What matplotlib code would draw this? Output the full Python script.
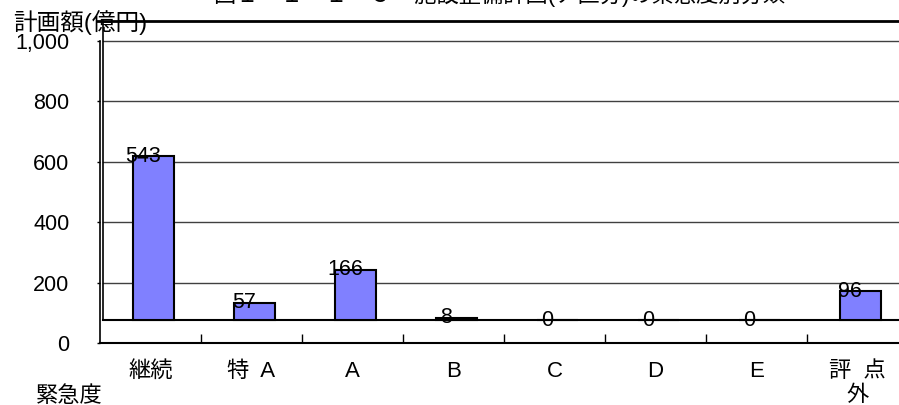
import matplotlib
matplotlib.use("Agg")
import matplotlib.pyplot as plt

plt.rcParams['font.family'] = ['Liberation Sans', 'Noto Sans CJK JP', 'DejaVu Sans']

# data
categories = ["継続", "特  A", "A", "B", "C", "D", "E", "評  点\n外"]
values = [543, 57, 166, 8, 0, 0, 0, 96]
y_ticks = [0, 200, 400, 600, 800, 1000]
y_labels = ["0", "200", "400", "600", "800", "1,000"]

base = 76        # floor of the pseudo-3D back wall
top = 1066       # top edge of the back wall
depth = 0.03     # horizontal depth offset (category units)

fig = plt.figure(figsize=(8.99, 4.05), dpi=100)
ax = fig.add_axes([100 / 899, 1 - 343 / 405, 808 / 899, 322 / 405])
ax.set_xlim(0, len(categories))
ax.set_ylim(0, top)

# back wall: gridlines, floor, left edge, top edge
for t in y_ticks[1:]:
    ax.plot([depth, len(categories)], [t, t], color="#404040", lw=1.0, zorder=1)
ax.plot([depth, len(categories)], [base, base], color="black", lw=1.5, zorder=1)
ax.plot([-0.03, len(categories)], [top, top], color="black", lw=2.0, zorder=1,
        clip_on=False)
ax.plot([depth, depth], [base, top], color="black", lw=1.2, zorder=1, clip_on=False)

xs = [i + 0.5 for i in range(len(categories))]
ax.bar([x + depth for x in xs], values, bottom=base, width=0.4,
       color="#8080FF", edgecolor="black", linewidth=1.5, zorder=3)

for x, v in zip(xs, values):
    ax.text(x - 0.07, base + v, str(v), ha="center", va="center",
            fontsize=15.5, zorder=4)

for s in ["top", "right"]:
    ax.spines[s].set_visible(False)
ax.spines["left"].set_bounds(0, 1000)
ax.spines["left"].set_linewidth(1.2)
ax.spines["bottom"].set_linewidth(1.5)

ax.set_yticks(y_ticks)
ax.set_yticklabels(y_labels, fontsize=15.5)
ax.tick_params(axis="y", length=2, pad=20, width=1)

ax.set_xticks(range(1, len(categories)))
ax.set_xticklabels([])
ax.tick_params(axis="x", which="major", direction="in", length=6.5, width=1)
ax.set_xticks(xs, minor=True)
ax.set_xticklabels(categories, minor=True, fontsize=16, linespacing=1.2)
ax.tick_params(axis="x", which="minor", length=0, pad=13)

fig.text(13 / 899, 1 - 23 / 405, "計画額(億円)", fontsize=17, ha="left", va="center")
fig.text(36 / 899, 1 - 396 / 405, "緊急度", fontsize=16, ha="left", va="center")
fig.text(500 / 899, 1 - 2 / 405, "図１－１－１－５　施設整備計画(ア区分)の緊急度別分類",
         fontsize=16, ha="center", va="baseline")

fig.savefig("out.png", dpi=100)
